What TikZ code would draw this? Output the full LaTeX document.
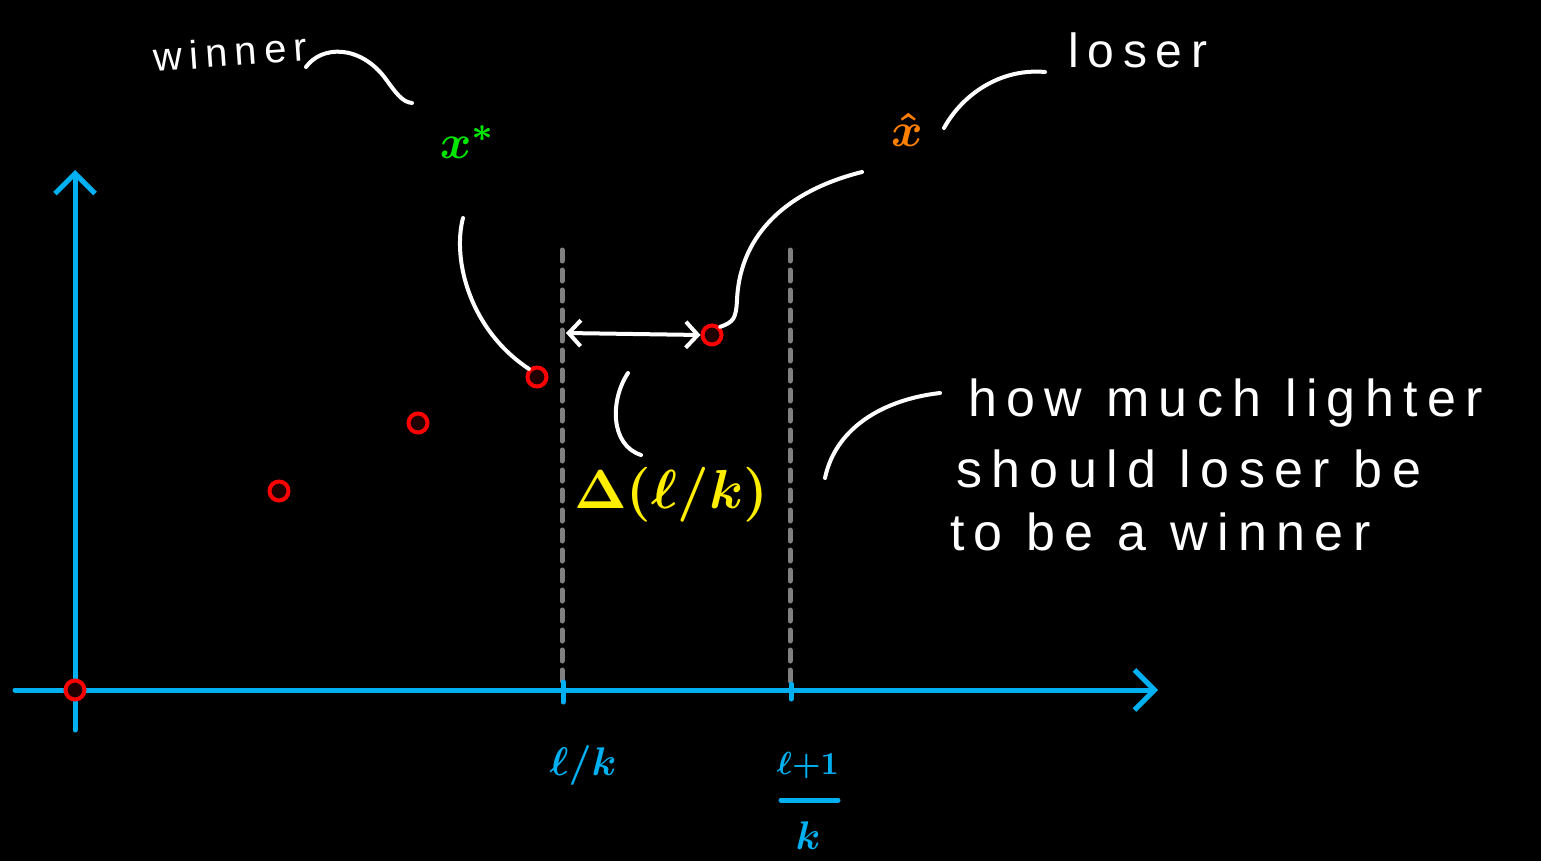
\documentclass[tikz,border=0pt]{standalone}
\usepackage{fontspec}
\usetikzlibrary{arrows.meta}
\newfontfamily\hand[LetterSpace=18]{Liberation Sans}
\definecolor{axisblue}{RGB}{0,176,240}
\definecolor{ptred}{RGB}{255,0,0}
\definecolor{ptfill}{RGB}{32,0,0}
\definecolor{dashgray}{RGB}{128,128,128}
\definecolor{xgreen}{RGB}{0,230,0}
\definecolor{xorange}{RGB}{255,128,0}
\definecolor{dyellow}{RGB}{255,238,0}
\tikzset{
  axis/.style={draw=axisblue, line width=5pt, line cap=round},
  axtip/.style={-{Straight Barb[length=20pt,width=40pt,line width=5pt]}},
  pt/.style={circle, draw=ptred, fill=ptfill, line width=4pt, minimum size=19pt, inner sep=0pt},
  guide/.style={draw=dashgray, line width=5pt, line cap=round, dash pattern=on 11pt off 9pt},
  leader/.style={draw=white, line width=4pt, line cap=round},
  handtext/.style={text=white, font=\hand\fontsize{52}{58}\selectfont, anchor=base west, inner sep=0pt},
  lbl/.style={inner sep=0pt, font=\boldmath}
}
\begin{document}
\begin{tikzpicture}[x=1pt,y=-1pt]
\fill[black] (0,0) rectangle (1541,861);
\useasboundingbox (0,0) rectangle (1541,861);

% axes
\coordinate (xs) at (15,690);
\coordinate (xe) at (1158,690);
\coordinate (ys) at (75,730);
\coordinate (ye) at (75,170);
\draw[axis, axtip] (xs) -- (xe);
\draw[axis, axtip] (ys) -- (ye);

% dashed guides
\coordinate (g1t) at (562,250);
\coordinate (g1b) at (562,688);
\coordinate (g2t) at (790,250);
\coordinate (g2b) at (790,688);
\draw[guide] (g1t) -- (g1b);
\draw[guide] (g2t) -- (g2b);

% ticks
\coordinate (t1a) at (563,682);
\coordinate (t1b) at (563,702);
\coordinate (t2a) at (791,684);
\coordinate (t2b) at (791,699);
\draw[axis] (t1a) -- (t1b);
\draw[axis] (t2a) -- (t2b);

% points
\node[pt] (p0) at (75,690) {};
\node[pt] (p1) at (279,491) {};
\node[pt] (p2) at (418,423) {};
\node[pt] (p3) at (537,377) {};
\node[pt] (p4) at (712,335) {};

% double arrow
\coordinate (da) at (566,333);
\draw[leader, {Straight Barb[length=12pt,width=26pt,line width=4pt]}-{Straight Barb[length=12pt,width=26pt,line width=4pt]}] (da) -- (p4.west);

% labels on axis
\node[lbl, text=axisblue, scale=4] (lk) at (583,765) {$\ell/k$};
\node[lbl, text=axisblue, scale=3.2] (num) at (808,766) {$\ell{+}1$};
\coordinate (fb1) at (781,800);
\coordinate (fb2) at (838,800);
\draw[axis] (fb1) -- (fb2);
\node[lbl, text=axisblue, scale=4] (den) at (808,836) {$k$};

% delta label
\node[lbl, text=dyellow, scale=5.5] (delta) at (671,495) {$\Delta(\ell/k)$};
\coordinate (br1) at (628,373);
\coordinate (br2) at (641,455);
\draw[leader] (br1) .. controls (610,400) and (610,445) .. (br2);

% winner / x*
\node[lbl, text=white, font=\hand\fontsize{40}{46}\selectfont, rotate=4] (winner) at (230,52) {winner};
\coordinate (wl1) at (306,67);
\coordinate (wl2) at (412,103);
\draw[leader] (wl1) .. controls (322,45) and (360,45) .. (385,78) .. controls (396,93) and (402,102) .. (wl2);
\node[lbl, text=xgreen, scale=4.8] (xstar) at (468,142) {$x^{*}$};
\coordinate (xs1) at (463,218);
\draw[leader] (xs1) .. controls (452,260) and (470,330) .. (p3.north west);

% loser / x hat
\node[lbl, text=white, font=\hand\fontsize{48}{54}\selectfont] (loser) at (1138,50) {loser};
\node[lbl, text=xorange, scale=4.8] (xhat) at (907,130) {$\hat{x}$};
\coordinate (ll1) at (944,128);
\coordinate (ll2) at (1045,72);
\draw[leader] (ll1) .. controls (962,95) and (1000,68) .. (ll2);
\coordinate (xh1) at (862,172);
\draw[leader] (xh1) .. controls (790,190) and (740,232) .. (737,300) .. controls (736,318) and (734,322) .. (p4.north east);

% explanation text
\node[handtext] (t1) at (968,416) {how much lighter};
\node[handtext] (t2) at (956,487) {should loser be};
\node[handtext] (t3) at (950,550) {to be a winner};
\coordinate (tl1) at (940,393);
\coordinate (tl2) at (825,478);
\draw[leader] (tl1) .. controls (880,400) and (835,430) .. (tl2);
\end{tikzpicture}
\end{document}
